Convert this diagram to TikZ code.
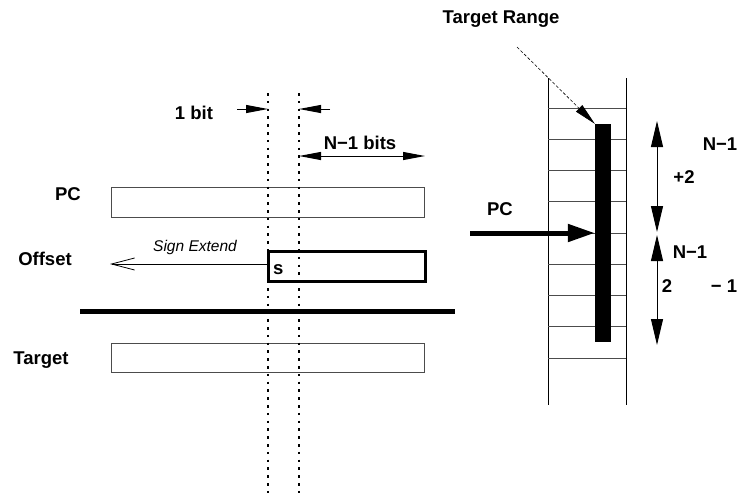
\documentclass[tikz,border=0pt]{standalone}
\usepackage{fontspec}
\setmainfont{Liberation Sans}
\usetikzlibrary{arrows.meta}

\begin{document}
\begin{tikzpicture}[x=1pt,y=-1pt,
	lbl/.style={font=\fontsize{18.5}{20}\selectfont\bfseries, inner sep=0pt},
	reg/.style={draw=black!70, line width=1pt, minimum width=313pt, minimum height=30pt, inner sep=0pt},
	bitline/.style={line width=2.4pt, dash pattern=on 2.5pt off 5.3pt},
	bitarrow/.style={line width=1pt, -{Triangle[length=22pt,width=8pt]}},
	spanarrow/.style={line width=1pt, {Triangle[length=26pt,width=12pt]}-{Triangle[length=26pt,width=12pt]}},
	rung/.style={draw=black!70, line width=1pt}]
\useasboundingbox (0,0) rectangle (741,496);

% registers
\node[reg] (pcreg) at (267.5,202) {};
\node[reg, draw=black, line width=3pt, minimum width=157pt, anchor=west] (offreg) at (267,266) {};
\node[reg, minimum height=29pt] (tgtreg) at (267.5,357.5) {};

\node[lbl] (pclbl) at (68,194) {PC};
\node[lbl] (offlbl) at (45,259) {Offset};
\node[lbl] (tgtlbl) at (41,360) {Target};
\node[lbl, anchor=west] (sbit) at (273,270) {s};

\draw[line width=5pt] (80,311) -- (455,311);

% bit boundaries
\coordinate (sgntop) at (268,93);
\coordinate (sgnbot) at (268,496);
\coordinate (lowtop) at (299,93);
\coordinate (lowbot) at (299,496);
\draw[bitline] (sgntop) -- (sgnbot);
\draw[bitline] (lowtop) -- (lowbot);

\node[lbl] (onebit) at (194,113) {1 bit};
\coordinate (onebitL) at (237,109);
\coordinate (onebitR) at (330,109);
\draw[bitarrow] (onebitL) -- (268,109);
\draw[bitarrow] (onebitR) -- (299,109);

\node[lbl] (nbits) at (360,143) {N−1 bits};
\coordinate (nbitsL) at (299,156);
\coordinate (nbitsR) at (425,156);
\draw[line width=1pt, {Triangle[length=22pt,width=8pt]}-{Triangle[length=22pt,width=8pt]}] (nbitsL) -- (nbitsR);

% sign extension
\coordinate (extend) at (110,264);
\draw[line width=0.8pt, -{Straight Barb[length=23pt,width=12pt]}] (offreg.west |- extend) -- (extend);
\node[font=\fontsize{15.5}{17}\selectfont\itshape, inner sep=0pt] (extlbl) at (195,247) {Sign Extend};

% memory ladder
\draw[line width=1pt] (548,78) -- (548,405);
\draw[line width=1pt] (626,78) -- (626,405);
\foreach \i in {0,...,8}
	\draw[rung] (548,{108+31.25*\i}) -- (626,{108+31.25*\i});

\node[fill=black, minimum width=16pt, minimum height=218pt, inner sep=0pt] (range) at (603,233) {};

\node[lbl] (pcpos) at (500,209) {PC};
\coordinate (pcfrom) at (470,233);
\draw[line width=5pt, -{Triangle[length=27pt,width=17pt]}] (pcfrom) -- (range.west);

\node[lbl] (rangelbl) at (501,19) {Target Range};
\coordinate (rangefrom) at (517,47);
\draw[line width=0.6pt, dash pattern=on 3pt off 2pt, -{Triangle[length=22pt,width=9pt]}] (rangefrom) -- (range.north west);

% reach
\coordinate (uptop) at (657,121);
\coordinate (upbot) at (657,232);
\coordinate (dntop) at (657,235);
\coordinate (dnbot) at (657,345);
\draw[spanarrow] (uptop) -- (upbot);
\draw[spanarrow] (dntop) -- (dnbot);

\node[lbl] (fwdexp) at (720,144) {N−1};
\node[lbl] (fwd) at (684,177) {+2};
\node[lbl] (bckexp) at (690,252) {N−1};
\node[lbl] (bck) at (667,286) {2};
\node[lbl] (bckm) at (724,286) {− 1};

\end{tikzpicture}
\end{document}
